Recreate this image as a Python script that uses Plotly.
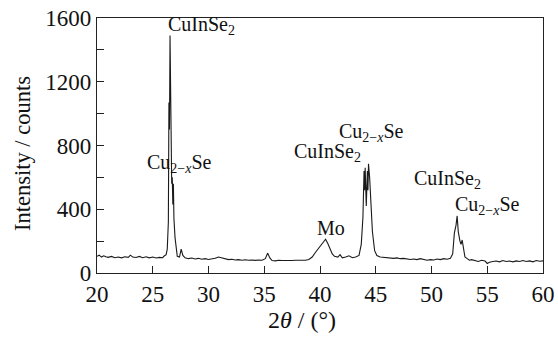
import plotly.graph_objects as go

two_theta = [20.0, 20.2, 20.4, 20.6, 20.8, 21.0, 21.3, 21.6, 21.9, 22.2, 22.5, 22.8, 23.0, 23.2, 23.5, 23.8,
             24.1, 24.4, 24.7, 25.0, 25.3, 25.6, 25.9, 26.0, 26.2, 26.3, 26.4, 26.45, 26.5, 26.55, 26.6, 26.65,
             26.7, 26.75, 26.8, 26.85, 26.9, 27.0, 27.1, 27.2, 27.4, 27.55, 27.7, 27.9, 28.2, 28.5, 28.8, 29.1,
             29.4, 29.7, 30.0, 30.3, 30.6, 30.9, 31.2, 31.5, 31.8, 32.1, 32.4, 32.7, 33.0, 33.3, 33.6, 33.9,
             34.2, 34.5, 34.8, 35.1, 35.3, 35.5, 35.7, 36.0, 36.3, 36.6, 36.9, 37.2, 37.5, 37.8, 38.1, 38.4,
             38.7, 39.0, 39.3, 39.6, 39.9, 40.2, 40.5, 40.7, 40.9, 41.1, 41.3, 41.6, 41.8, 42.0, 42.3, 42.6,
             42.9, 43.2, 43.5, 43.7, 43.85, 43.95, 44.0, 44.05, 44.15, 44.25, 44.3, 44.35, 44.45, 44.55, 44.7,
             44.9, 45.1, 45.4, 45.7, 46.0, 46.3, 46.6, 46.9, 47.2, 47.5, 47.8, 48.1, 48.4, 48.7, 49.0, 49.3,
             49.6, 49.9, 50.2, 50.5, 50.8, 51.1, 51.4, 51.7, 51.9, 52.05, 52.2, 52.3, 52.4, 52.55, 52.65, 52.75,
             52.85, 53.0, 53.2, 53.4, 53.6, 53.9, 54.2, 54.5, 54.8, 55.0, 55.2, 55.5, 55.8, 56.1, 56.4, 56.7,
             57.0, 57.3, 57.6, 57.9, 58.2, 58.5, 58.8, 59.1, 59.4, 59.7, 60.0]
intensity = [105, 112, 100, 108, 102, 98, 104, 96, 100, 95, 102, 98, 112, 100, 97, 104,
             96, 102, 95, 100, 94, 98, 96, 105, 115, 150, 320, 1070, 900, 1490, 1200, 700,
             560, 600, 430, 560, 340, 220, 140, 105, 100, 150, 110, 95, 90, 94, 88, 92,
             86, 90, 85, 88, 92, 100, 96, 88, 84, 86, 82, 84, 80, 83, 80, 82,
             79, 82, 80, 90, 125, 95, 78, 76, 80, 78, 77, 80, 78, 80, 79, 82,
             80, 85, 100, 130, 155, 180, 212, 185, 150, 120, 105, 100, 115, 95, 100, 108,
             96, 100, 110, 180, 350, 640, 520, 660, 420, 640, 520, 685, 600, 420, 260,
             140, 110, 100, 98, 95, 97, 92, 95, 90, 92, 88, 85, 88, 84, 90, 86,
             80, 84, 82, 88, 84, 90, 86, 92, 120, 250, 300, 358, 260, 200, 180, 207,
             150, 100, 90, 80, 84, 78, 72, 80, 75, 60, 68, 72, 75, 70, 78, 72,
             75, 70, 76, 72, 78, 72, 76, 70, 78, 74, 76]

label_text = ["CuInSe<sub>2</sub>", "Cu<sub>2−<i>x</i></sub>Se", "Mo", "CuInSe<sub>2</sub>",
              "Cu<sub>2−<i>x</i></sub>Se", "CuInSe<sub>2</sub>", "Cu<sub>2−<i>x</i></sub>Se"]
label_x = [29.4, 27.4, 41.0, 40.7, 44.6, 51.4, 55.0]
label_y = [1550, 690, 283, 755, 880, 585, 421]

y_ticks = [0, 400, 800, 1200, 1600]
y_minor = [200, 600, 1000, 1400]
x_ticks = [20, 25, 30, 35, 40, 45, 50, 55, 60]

FONT = "Liberation Serif, Times New Roman, serif"
W, H = 558, 340
ML, MR, MT, MB = 97, 15, 18, 67
PW, PH = W - ML - MR, H - MT - MB

fig = go.Figure()
fig.add_trace(go.Scatter(x=two_theta, y=intensity, mode="lines",
                         line=dict(color="#1a1a1a", width=1.1), hoverinfo="skip"))

for t, x, y in zip(label_text, label_x, label_y):
    fig.add_annotation(x=x, y=y, text=t, showarrow=False, xref="x", yref="y",
                       font=dict(family=FONT, size=20, color="#111"))

# axis titles (paper coordinates)
fig.add_annotation(x=(302 - ML) / PW, y=((H - MB) - 320) / PH, xref="paper", yref="paper",
                   xanchor="center", yanchor="middle",
                   text="2<i>θ</i> / (°)", showarrow=False,
                   font=dict(family=FONT, size=24, color="#111"))
fig.add_annotation(x=(22 - ML) / PW, y=((H - MB) - 154) / PH, xref="paper", yref="paper",
                   xanchor="center", yanchor="middle",
                   text="Intensity / counts", showarrow=False, textangle=-90,
                   font=dict(family=FONT, size=22.5, color="#111"))

fig.update_layout(
    width=W, height=H,
    margin=dict(l=ML, r=MR, t=MT, b=MB),
    paper_bgcolor="white", plot_bgcolor="white",
    showlegend=False,
    font=dict(family=FONT, color="#111"),
)
fig.update_xaxes(range=[20, 60], tickvals=x_ticks, ticks="inside", ticklen=7,
                 tickcolor="#222", linecolor="#222", linewidth=1.3, mirror=True,
                 showgrid=False, zeroline=False, automargin=False, ticklabeloverflow="allow",
                 tickfont=dict(size=23, family=FONT))
fig.update_yaxes(range=[0, 1600], tickvals=y_ticks, ticks="inside", ticklen=7,
                 tickcolor="#222", linecolor="#222", linewidth=1.3, mirror=True,
                 showgrid=False, zeroline=False, automargin=False, ticklabeloverflow="allow",
                 tickfont=dict(size=23, family=FONT),
                 minor=dict(tickvals=y_minor, ticks="inside", ticklen=7, tickcolor="#222"))

fig.write_html("out.html", config={"displayModeBar": False},
               post_script="document.body.style.margin='0';")
